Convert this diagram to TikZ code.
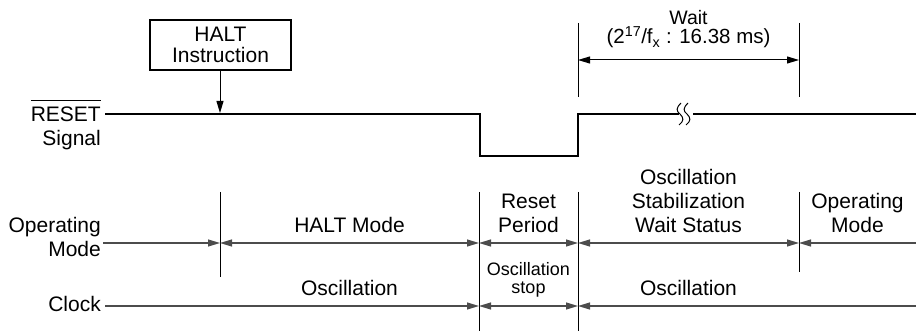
\documentclass[tikz,border=0pt]{standalone}
\usepackage{fontspec}
\setmainfont{Liberation Sans}
\usetikzlibrary{arrows.meta}
\newcommand{\myovl}[1]{\setbox0\hbox{#1}\rlap{\rule[20.5pt]{\wd0}{1pt}}#1}
\begin{document}
\begin{tikzpicture}[x=1pt,y=-1pt,
  lbl/.style={font=\fontsize{21}{24}\selectfont, inner sep=0pt, anchor=base},
  lblr/.style={lbl, anchor=base east},
  small/.style={font=\fontsize{18}{20}\selectfont, inner sep=0pt, anchor=base},
  tip/.style={-{Triangle[length=12pt,width=7pt]}},
  tips/.style={{Triangle[length=12pt,width=7pt]}-{Triangle[length=12pt,width=7pt]}},
  sig/.style={line width=2.5pt, line join=miter},
  tline/.style={line width=1.2pt, black!70},
  vline/.style={line width=1pt, black}]
\useasboundingbox (0,0) rectangle (916,331);

% RESET signal
\node[lblr] (rst) at (101,122) {\myovl{RESET}};
\node[lblr] (sgn) at (101,146) {Signal};
\coordinate (s0) at (105,114);
\coordinate (s1) at (480,114);
\coordinate (s2) at (480,156);
\coordinate (s3) at (578,156);
\coordinate (s4) at (578,114);
\coordinate (b1) at (679,114);
\coordinate (b2) at (693,114);
\coordinate (s5) at (916,114);
\draw[sig] (s0) -- (s1) -- (s2) -- (s3) -- (s4) -- (b1);
\draw[sig] (b2) -- (s5);
\draw[line width=1pt] (681,103) .. controls (676,108) and (676,111) .. (680,114) .. controls (684,118) and (684,121) .. (679,125);
\draw[line width=1pt] (688,103) .. controls (683,108) and (683,111) .. (687,114) .. controls (691,118) and (691,121) .. (686,125);

% HALT instruction
\node[draw, line width=2pt, minimum width=141pt, minimum height=50pt, inner sep=0pt] (halt) at (220.5,45) {};
\node[lbl] (h1) at (220.5,42) {HALT};
\node[lbl] (h2) at (220.5,63) {Instruction};
\coordinate (hp) at (220,113);
\draw[tip, line width=1pt] (halt.south -| hp) -- (hp);

% Wait
\coordinate (w1t) at (578,23);
\coordinate (w1b) at (578,97);
\coordinate (w2t) at (799,23);
\coordinate (w2b) at (799,97);
\draw[vline] (w1t) -- (w1b);
\draw[vline] (w2t) -- (w2b);
\coordinate (wa) at (578,60);
\coordinate (wb) at (799,60);
\draw[tips, line width=1pt] (wa) -- (wb);
\node[font=\fontsize{19.5}{22}\selectfont, inner sep=0pt, anchor=base] (w) at (688.5,25) {Wait};
\node[font=\fontsize{20.5}{22}\selectfont, inner sep=0pt, anchor=base] (wt) at (688.5,44) {(2\textsuperscript{17}/f\textsubscript{x} : 16.38 ms)};

% Vertical markers
\coordinate (v1t) at (220,192); \coordinate (v1b) at (220,277);
\coordinate (v2t) at (479,192); \coordinate (v2b) at (479,331);
\coordinate (v3t) at (578,192); \coordinate (v3b) at (578,331);
\coordinate (v4t) at (799,192); \coordinate (v4b) at (799,272);
\draw[vline] (v1t) -- (v1b);
\draw[vline] (v2t) -- (v2b);
\draw[vline] (v3t) -- (v3b);
\draw[vline] (v4t) -- (v4b);

% Operating mode line
\coordinate (m0) at (103,243);
\coordinate (m1) at (220,243);
\coordinate (m2) at (479,243);
\coordinate (m3) at (578,243);
\coordinate (m4) at (799,243);
\coordinate (m5) at (916,243);
\draw[tline, tip] (m0) -- (m1);
\draw[tline, tips] (m1) -- (m2);
\draw[tline, tips] (m2) -- (m3);
\draw[tline, tips] (m3) -- (m4);
\draw[tline, tip] (m5) -- (m4);

% Clock line
\coordinate (c0) at (105,306);
\coordinate (c2) at (479,306);
\coordinate (c3) at (578,306);
\coordinate (c5) at (916,306);
\draw[tline, tip] (c0) -- (c2);
\draw[tline, tips] (c2) -- (c3);
\draw[tline, tip] (c5) -- (c3);

% Labels
\node[lblr] (op1) at (101,233) {Operating};
\node[lblr] (op2) at (101,257) {Mode};
\node[lblr] (clk) at (101,312) {Clock};
\node[lbl] (hm) at (349.5,233) {HALT Mode};
\node[lbl] (osc1) at (349.5,295) {Oscillation};
\node[lbl] (rp1) at (528.5,209) {Reset};
\node[lbl] (rp2) at (528.5,233) {Period};
\node[lbl] (st1) at (688.5,185) {Oscillation};
\node[lbl] (st2) at (688.5,209) {Stabilization};
\node[lbl] (st3) at (688.5,233) {Wait Status};
\node[lbl] (om1) at (857.5,209) {Operating};
\node[lbl] (om2) at (857.5,233) {Mode};
\node[small] (os1) at (528.5,276) {Oscillation};
\node[small] (os2) at (528.5,293.5) {stop};
\node[lbl] (osc2) at (688.5,295) {Oscillation};
\end{tikzpicture}
\end{document}
